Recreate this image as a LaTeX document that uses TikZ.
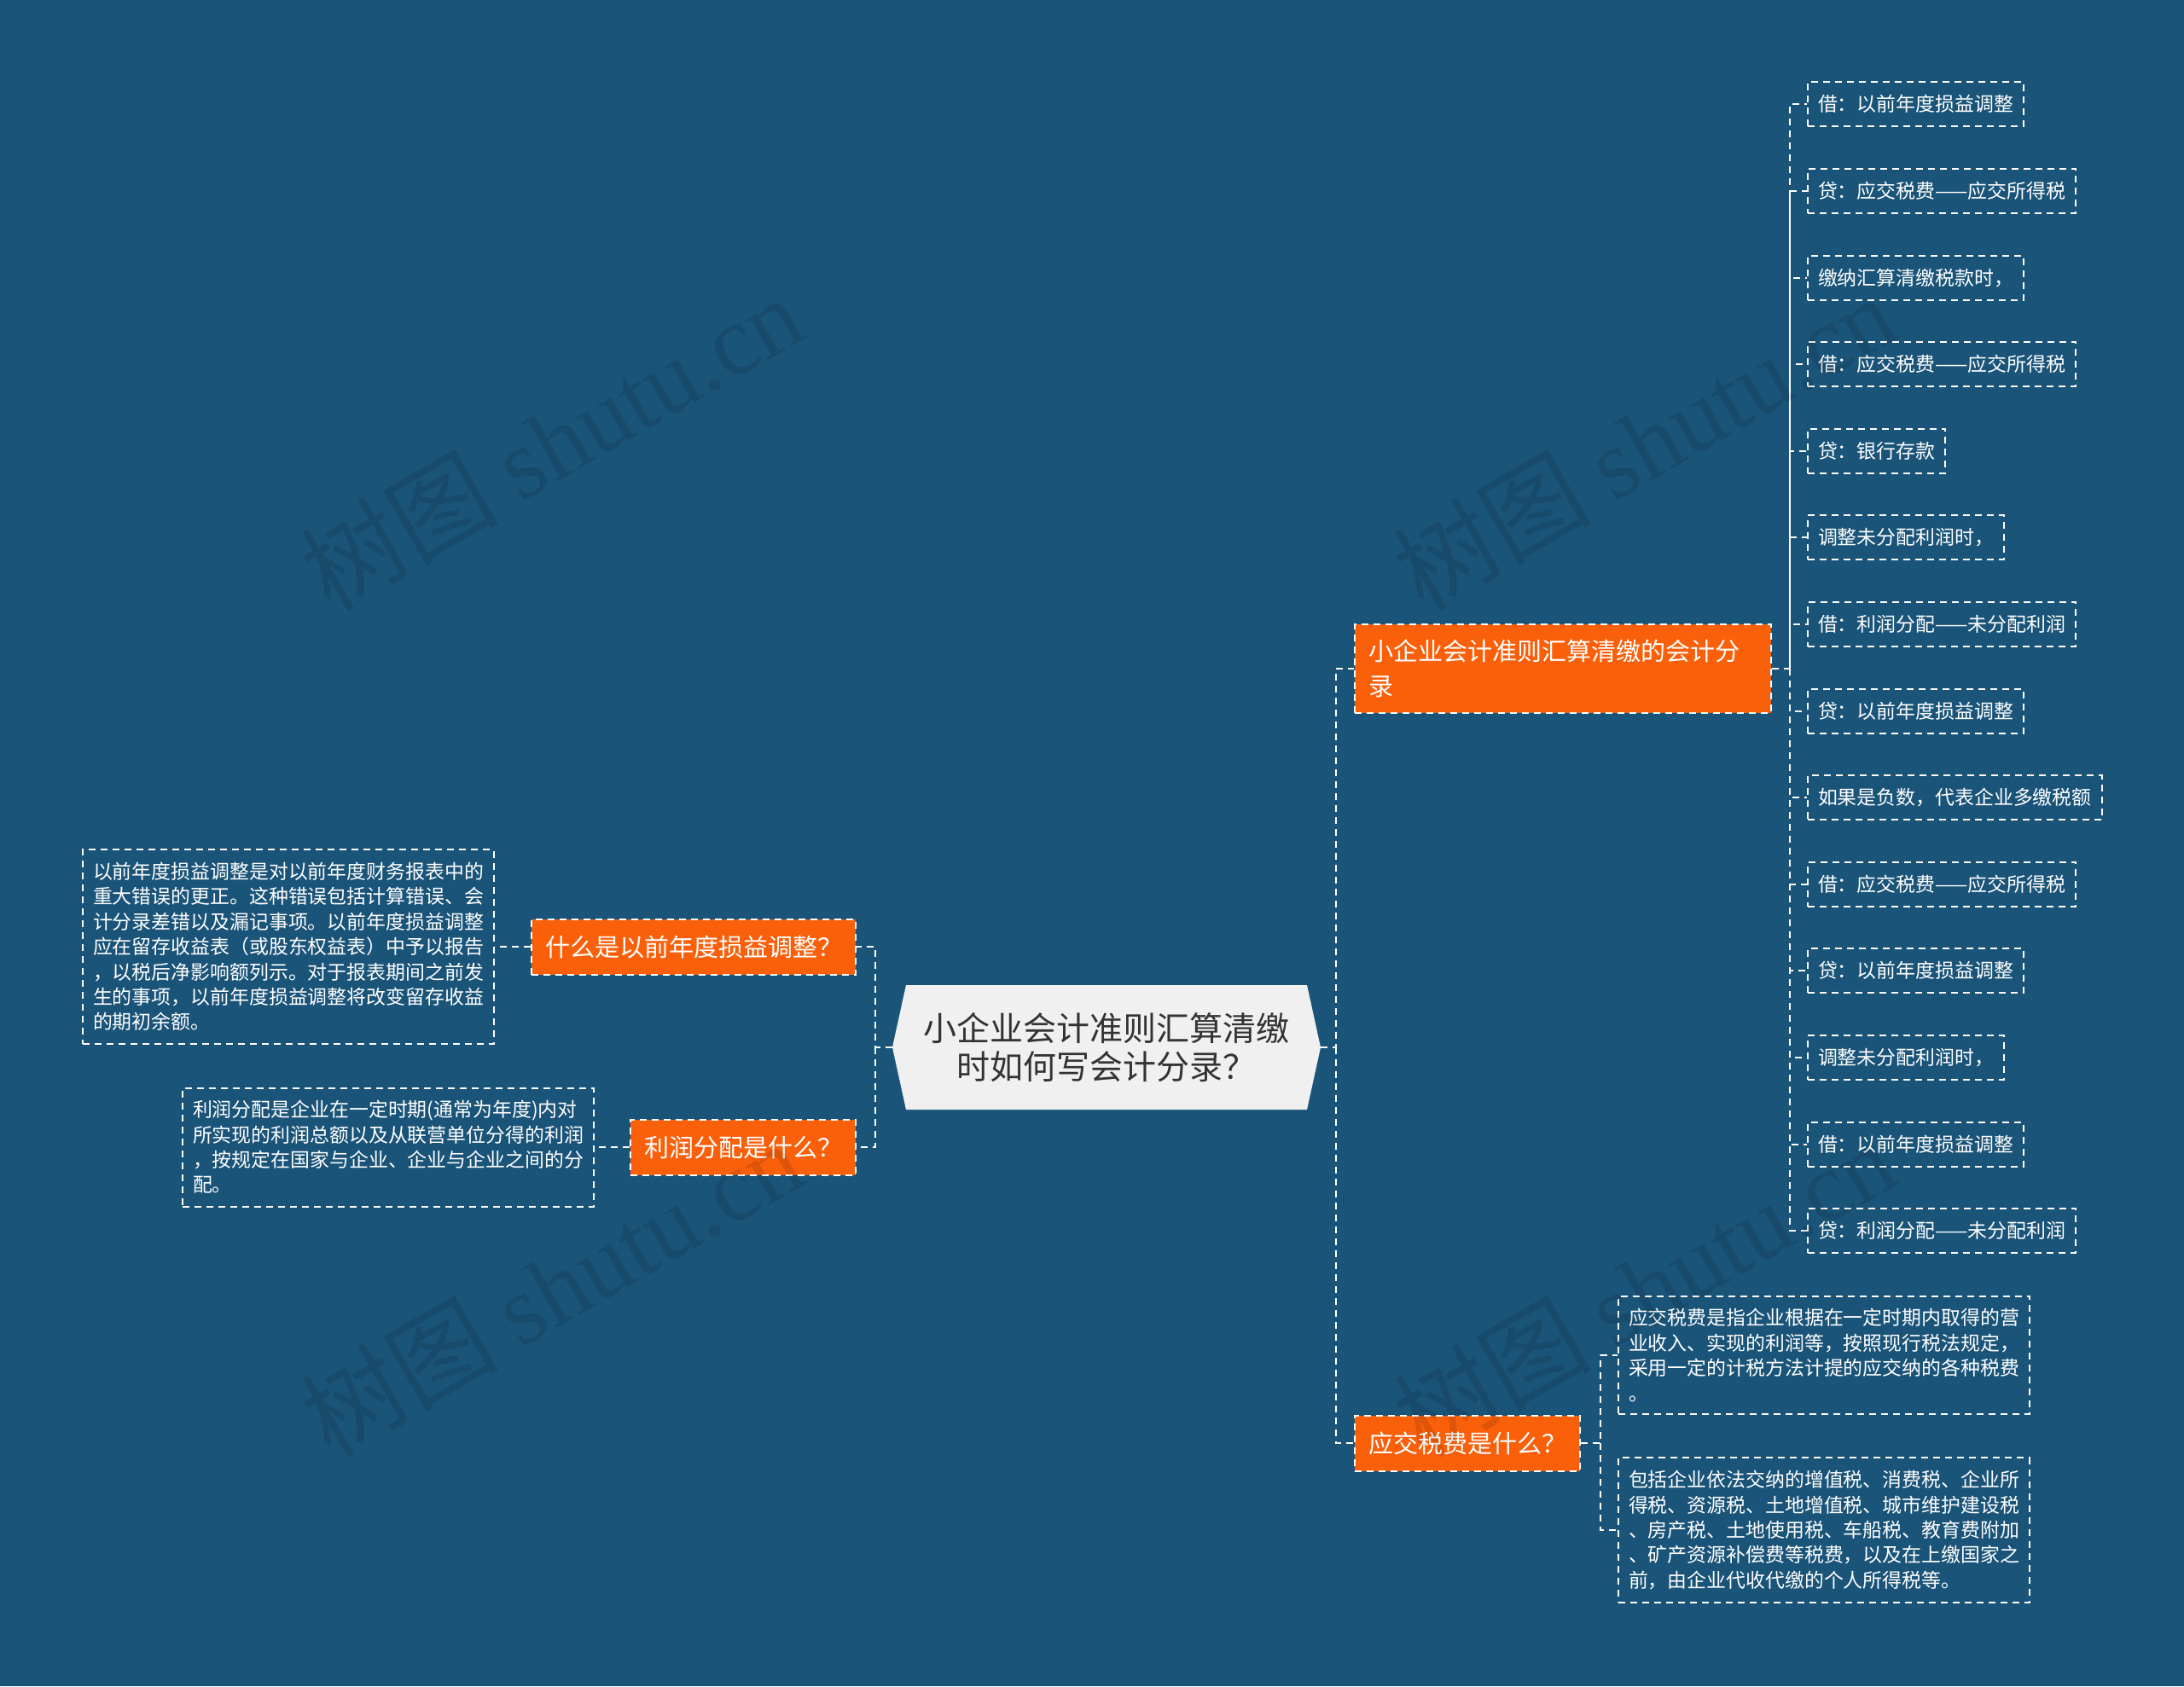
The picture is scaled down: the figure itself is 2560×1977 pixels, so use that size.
\documentclass[tikz,border=0pt]{standalone}
\usepackage{fontspec}
\setmainfont{Noto Sans CJK SC}
\newfontfamily\wmfont{Liberation Serif}
\definecolor{bgblue}{RGB}{26,84,121}
\definecolor{topicorange}{RGB}{250,95,10}
\definecolor{rootgray}{RGB}{240,240,240}
\definecolor{roottext}{RGB}{51,51,51}
\newcommand\rootfont{\fontsize{19.5pt}{22.5pt}\selectfont}
\newcommand\topicfont{\fontsize{14.5pt}{20.5pt}\selectfont}
\newcommand\leaffont{\fontsize{11.45pt}{14.7pt}\selectfont}

\begin{document}
\begin{tikzpicture}[x=0.5pt,y=0.5pt,yscale=-1,xscale=1,
  link/.style={draw=white,line width=1pt,dash pattern=on 4pt off 3pt},
  topic/.style={fill=topicorange,draw=white,line width=1pt,dash pattern=on 4pt off 3pt,text=white,font=\topicfont,inner xsep=8pt,inner ysep=9pt,minimum height=32.5pt},
  leaf/.style={draw=white,line width=1pt,dash pattern=on 4pt off 3pt,text=white,font=\leaffont,inner xsep=6pt,inner ysep=4pt,minimum height=26pt,anchor=west},
  notebox/.style={draw=white,line width=1pt,dash pattern=on 4pt off 3pt,text=white,font=\leaffont,text width=229pt,align=left,inner xsep=6pt,inner ysep=7.4pt},
  wmtext/.style={rotate=30,text=black,text opacity=0.11,font=\fontsize{58pt}{60pt}\selectfont}]
  %set diagram size: 2560 x 1977
  \useasboundingbox (0,0) rectangle (2560,1977);
  \fill[bgblue] (0,0) rectangle (2560,1977);

  %Shape: Hexagon [id:root]
  \fill[rootgray] (1046,1228) -- (1062,1155) -- (1532,1155) -- (1548,1228) -- (1532,1301) -- (1062,1301) -- cycle;
  % Text Node
  \node (root) at (1297,1228) [minimum width=251pt,minimum height=73pt,inner sep=0pt,align=center,font=\rootfont,text=roottext] {小企业会计准则汇算清缴\\时如何写会计分录？};

  % Text Node
  \node (qa) at (1004,1110) [topic,anchor=east] {什么是以前年度损益调整？};
  % Text Node
  \node (qb) at (1004,1345) [topic,anchor=east] {利润分配是什么？};
  % Text Node
  \node (qc) at (1587,784) [topic,anchor=west,text width=228pt,align=left] {小企业会计准则汇算清缴的会计分\\录};
  % Text Node
  \node (qd) at (1587,1692) [topic,anchor=west] {应交税费是什么？};

  % Text Node
  \node (ta) at (580,1110) [notebox,anchor=east] {以前年度损益调整是对以前年度财务报表中的\\重大错误的更正。这种错误包括计算错误、会\\计分录差错以及漏记事项。以前年度损益调整\\应在留存收益表（或股东权益表）中予以报告\\，以税后净影响额列示。对于报表期间之前发\\生的事项，以前年度损益调整将改变留存收益\\的期初余额。};
  % Text Node
  \node (tb) at (697,1345) [notebox,anchor=east] {利润分配是企业在一定时期(通常为年度)内对\\所实现的利润总额以及从联营单位分得的利润\\，按规定在国家与企业、企业与企业之间的分\\配。};
  % Text Node
  \node (td1) at (1896,1589) [notebox,anchor=west] {应交税费是指企业根据在一定时期内取得的营\\业收入、实现的利润等，按照现行税法规定，\\采用一定的计税方法计提的应交纳的各种税费\\。};
  % Text Node
  \node (td2) at (1896,1794) [notebox,anchor=west] {包括企业依法交纳的增值税、消费税、企业所\\得税、资源税、土地增值税、城市维护建设税\\、房产税、土地使用税、车船税、教育费附加\\、矿产资源补偿费等税费，以及在上缴国家之\\前，由企业代收代缴的个人所得税等。};

  % Text Node
  \node (c1) at (2118,122) [leaf] {借：以前年度损益调整};
  % Text Node
  \node (c2) at (2118,224) [leaf] {贷：应交税费——应交所得税};
  % Text Node
  \node (c3) at (2118,326) [leaf] {缴纳汇算清缴税款时，};
  % Text Node
  \node (c4) at (2118,427) [leaf] {借：应交税费——应交所得税};
  % Text Node
  \node (c5) at (2118,529) [leaf] {贷：银行存款};
  % Text Node
  \node (c6) at (2118,630) [leaf] {调整未分配利润时，};
  % Text Node
  \node (c7) at (2118,732) [leaf] {借：利润分配——未分配利润};
  % Text Node
  \node (c8) at (2118,834) [leaf] {贷：以前年度损益调整};
  % Text Node
  \node (c9) at (2118,935) [leaf] {如果是负数，代表企业多缴税额};
  % Text Node
  \node (c10) at (2118,1037) [leaf] {借：应交税费——应交所得税};
  % Text Node
  \node (c11) at (2118,1138) [leaf] {贷：以前年度损益调整};
  % Text Node
  \node (c12) at (2118,1240) [leaf] {调整未分配利润时，};
  % Text Node
  \node (c13) at (2118,1342) [leaf] {借：以前年度损益调整};
  % Text Node
  \node (c14) at (2118,1443) [leaf] {贷：利润分配——未分配利润};

  %Connectors
  \coordinate (lj) at (1026,1228);
  \coordinate (rj) at (1566,1228);
  \coordinate (cj) at (2098,784);
  \coordinate (dj) at (1876,1692);
  \draw[link] (root.west) -- (lj) |- (qa.east);
  \draw[link] (lj) |- (qb.east);
  \draw[link] (root.east) -- (rj) |- (qc.west);
  \draw[link] (rj) |- (qd.west);
  \draw[link] (qa.west) -- (ta.east);
  \draw[link] (qb.west) -- (tb.east);
  \draw[link] (qd.east) -- (dj) |- (td1.west);
  \draw[link] (dj) |- (td2.west);
  \draw[link] (qc.east) -- (cj) |- (c1.west);
  \draw[link] (cj) |- (c2.west);
  \draw[link] (cj) |- (c3.west);
  \draw[link] (cj) |- (c4.west);
  \draw[link] (cj) |- (c5.west);
  \draw[link] (cj) |- (c6.west);
  \draw[link] (cj) |- (c7.west);
  \draw[link] (cj) |- (c8.west);
  \draw[link] (cj) |- (c9.west);
  \draw[link] (cj) |- (c10.west);
  \draw[link] (cj) |- (c11.west);
  \draw[link] (cj) |- (c12.west);
  \draw[link] (cj) |- (c13.west);
  \draw[link] (cj) |- (c14.west);

  % Watermark
  \node (wm1) at (646,518) [wmtext] {树图 {\wmfont shutu.cn}};
  \node (wm2) at (1927,518) [wmtext] {树图 {\wmfont shutu.cn}};
  \node (wm3) at (646,1510) [wmtext] {树图 {\wmfont shutu.cn}};
  \node (wm4) at (1927,1510) [wmtext] {树图 {\wmfont shutu.cn}};
\end{tikzpicture}
\end{document}
